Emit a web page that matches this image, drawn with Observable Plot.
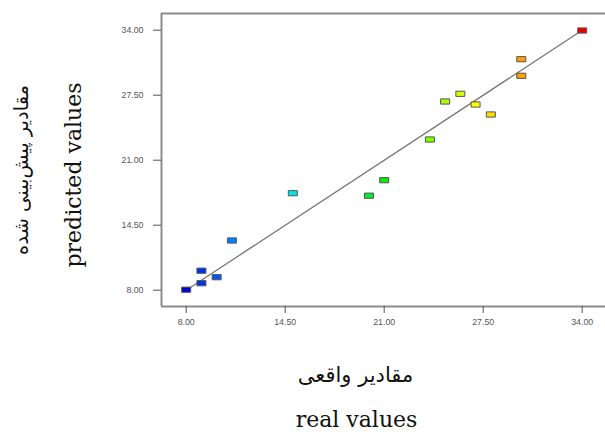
<!DOCTYPE html>
<html>
<head>
<meta charset="utf-8">
<script src="https://cdn.jsdelivr.net/npm/d3@7"></script>
<script src="https://cdn.jsdelivr.net/npm/@observablehq/plot@0.6"></script>
<style>
  html, body { margin: 0; padding: 0; background: #fff; overflow: hidden; }
</style>
</head>
<body>
<div id="chart"></div>
<script>
// Data
const realValues      = [8, 9, 9, 10, 11, 15, 20, 21, 24, 25, 26, 27, 28, 30, 30, 34];
const predictedValues = [8.05, 8.7, 9.95, 9.3, 12.97, 17.7, 17.45, 19.0, 23.07, 26.87, 27.64, 26.57, 25.57, 29.44, 31.1, 33.97];
const tickValues = [8.00, 14.50, 21.00, 27.50, 34.00];
const fitLine = [8, 34];
const xTitleFa = "مقادیر واقعی";
const xTitleEn = "real values";
const yTitleFa = "مقادیر پیش‌بینی شده";
const yTitleEn = "predicted values";

const points = realValues.map((r, i) => ({real: r, predicted: predictedValues[i]}));

const xDomain = [6.378, 35.53];
const yDomain = [6.37, 35.67];

const rectSymbol = {
  draw(context) {
    context.moveTo(-4.5, -2.6);
    context.lineTo(4.5, -2.6);
    context.lineTo(4.5, 2.6);
    context.lineTo(-4.5, 2.6);
    context.closePath();
  }
};

const tickFont = "'Liberation Sans', Arial, sans-serif";
const serif = "'DejaVu Serif', serif";
const arabic = "'DejaVu Sans', sans-serif";

const chart = Plot.plot({
  width: 605,
  height: 432,
  marginLeft: 161,
  marginRight: 0,
  marginTop: 13,
  marginBottom: 126,
  style: {background: "#fff"},
  x: {domain: xDomain},
  y: {domain: yDomain},
  color: {
    type: "linear",
    domain: [8, 9, 11, 15, 21, 24, 27, 30, 34],
    range: ["#0000c8", "#0030f0", "#0080ff", "#00e6e6", "#00ee10", "#80ff00", "#ffff00", "#ffa000", "#ee0000"]
  },
  marks: [
    // frame borders (left, top, bottom)
    Plot.ruleX([xDomain[0]], {stroke: "#8c8c8c", strokeWidth: 2}),
    Plot.ruleY([yDomain[0], yDomain[1]], {stroke: "#8c8c8c", strokeWidth: 2}),
    Plot.axisX(tickValues, {
      tickSize: 7, tickPadding: 5,
      tickFormat: d => d.toFixed(2),
      fontSize: 8.8, fontFamily: tickFont,
      color: "#555", label: null
    }),
    Plot.axisY(tickValues, {
      tickSize: 8, tickPadding: 10,
      tickFormat: d => d.toFixed(2),
      fontSize: 8.8, fontFamily: tickFont,
      color: "#555", label: null
    }),
    Plot.line(fitLine, {x: d => d, y: d => d, stroke: "#777", strokeWidth: 1.3}),
    Plot.dot(points, {
      x: "real", y: "predicted", fill: "real",
      symbol: rectSymbol, stroke: "#555", strokeWidth: 1
    }),
    // axis titles
    Plot.text([xTitleFa], {text: d => d, frameAnchor: "bottom", dx: -28, dy: 69,
      fontSize: 21, fontFamily: arabic, fill: "#111", textAnchor: "middle", lineAnchor: "middle"}),
    Plot.text([xTitleEn], {text: d => d, frameAnchor: "bottom", dx: -27, dy: 113,
      fontSize: 22, fontFamily: serif, fill: "#111", textAnchor: "middle", lineAnchor: "middle"}),
    Plot.text([yTitleEn], {text: d => d, frameAnchor: "left", dx: -88, dy: 15, rotate: -90,
      fontSize: 22, fontFamily: serif, fill: "#111", textAnchor: "middle", lineAnchor: "middle"}),
    Plot.text([yTitleFa], {text: d => d, frameAnchor: "left", dx: -140, dy: 10, rotate: -90,
      fontSize: 19.5, fontFamily: arabic, fill: "#111", textAnchor: "middle", lineAnchor: "middle"})
  ]
});
document.getElementById("chart").appendChild(chart);
</script>
</body>
</html>
